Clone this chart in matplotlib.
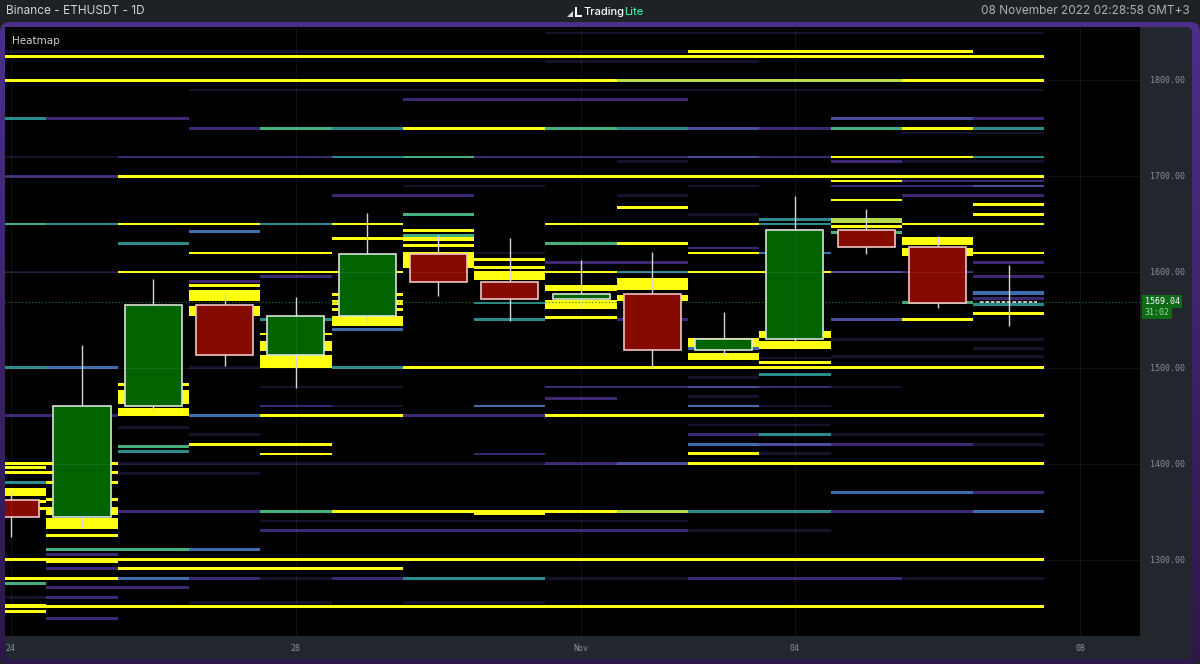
import matplotlib
matplotlib.use("Agg")
import matplotlib.pyplot as plt
import matplotlib.transforms as mtransforms
from matplotlib.patches import Rectangle, FancyBboxPatch, Polygon
from matplotlib.colors import LinearSegmentedColormap
import numpy as np

# daily candles, Oct 24 .. Nov 7 2022 (day index 0..14)
opens = [1362.6, 1344.5, 1460.5, 1565.5, 1514.0, 1554.0, 1618.5, 1589.5,
         1572.0, 1577.5, 1518.5, 1530.5, 1643.5, 1626.0, 1568.0]
highs = [1372.0, 1524.0, 1593.0, 1578.0, 1573.5, 1661.5, 1639.0, 1635.0,
         1612.0, 1621.0, 1558.0, 1679.0, 1666.0, 1638.0, 1607.0]
lows = [1324.0, 1333.0, 1456.0, 1502.0, 1479.0, 1547.0, 1575.0, 1549.0,
        1562.5, 1501.0, 1513.5, 1528.5, 1619.0, 1563.0, 1544.0]
closes = [1344.5, 1460.5, 1565.5, 1514.0, 1554.0, 1618.5, 1589.5, 1572.0,
          1577.5, 1518.5, 1530.5, 1643.5, 1626.0, 1568.0, 1569.04]

tick_days = [0, 4, 8, 11, 15]
tick_labels = ["24", "28", "Nov", "04", "08"]
price_ticks = [1300, 1400, 1500, 1600, 1700, 1800]
last_price = 1569.04
countdown = "31:02"

# resting liquidity: (price, first day, last day, intensity 1..8)
heat_lines = [
    (1849.0, 8, 14, 1), (1829.5, 0, 9, 1), (1829.5, 10, 13, 8),
    (1824.3, 0, 14, 8), (1819.5, 8, 10, 1),
    (1799.7, 0, 8, 8), (1799.7, 9, 12, 7), (1799.7, 13, 14, 8),
    (1789.6, 3, 14, 1), (1779.5, 6, 9, 2),
    (1759.8, 0, 0, 5), (1759.8, 1, 2, 2), (1759.8, 12, 13, 3), (1759.8, 14, 14, 2),
    (1749.7, 3, 3, 2), (1749.7, 4, 4, 6), (1749.7, 5, 5, 5), (1749.7, 6, 7, 8),
    (1749.7, 8, 8, 6), (1749.7, 9, 9, 5), (1749.7, 10, 10, 3), (1749.7, 11, 11, 2),
    (1749.7, 12, 12, 6), (1749.7, 13, 13, 8), (1749.7, 14, 14, 5),
    (1744.8, 13, 14, 1),
    (1719.8, 0, 1, 1), (1719.8, 2, 4, 2), (1719.8, 5, 5, 5), (1719.8, 6, 6, 6),
    (1719.8, 7, 9, 2), (1719.8, 10, 10, 3), (1719.8, 11, 11, 2),
    (1719.8, 12, 13, 8), (1719.8, 14, 14, 5),
    (1714.9, 9, 9, 1), (1714.9, 12, 12, 2), (1714.9, 13, 14, 1),
    (1699.7, 0, 1, 2), (1699.7, 2, 14, 8),
    (1694.8, 12, 12, 8), (1694.8, 13, 14, 2),
    (1689.6, 6, 7, 1), (1689.6, 10, 10, 1), (1689.6, 12, 13, 2), (1689.6, 14, 14, 3),
    (1679.9, 5, 6, 2), (1679.9, 9, 9, 1), (1679.9, 13, 14, 2),
    (1675.0, 12, 12, 8), (1670.0, 14, 14, 8), (1667.4, 9, 9, 8),
    (1660.1, 6, 6, 6), (1660.1, 10, 10, 1), (1660.1, 14, 14, 8),
    (1654.5, 11, 11, 5),
    (1650.0, 0, 0, 6), (1650.0, 1, 1, 5), (1650.0, 2, 3, 8), (1650.0, 4, 4, 5),
    (1650.0, 5, 5, 8), (1650.0, 8, 10, 8), (1650.0, 11, 11, 5), (1650.0, 13, 14, 8),
    (1647.3, 12, 12, 8), (1642.4, 3, 3, 4), (1643.0, 6, 6, 8), (1638.0, 6, 6, 6),
    (1634.8, 5, 5, 8), (1629.9, 2, 2, 5), (1629.9, 8, 8, 6), (1630.0, 9, 9, 8),
    (1625.0, 10, 10, 2), (1627.8, 6, 6, 8),
    (1619.8, 3, 4, 8), (1619.8, 7, 7, 1), (1619.8, 10, 10, 8), (1619.8, 11, 11, 4),
    (1619.8, 14, 14, 8),
    (1612.9, 7, 7, 8), (1610.0, 8, 9, 2), (1610.0, 14, 14, 2), (1604.9, 7, 7, 8),
    (1600.0, 0, 1, 1), (1600.0, 2, 5, 8), (1600.0, 8, 8, 8), (1600.0, 9, 9, 5),
    (1600.0, 10, 11, 8), (1600.0, 12, 12, 3), (1600.0, 13, 13, 2),
    (1595.5, 4, 4, 2), (1595.5, 14, 14, 2), (1590.4, 3, 3, 2), (1585.8, 3, 3, 8),
    (1576.4, 5, 5, 8), (1572.0, 14, 14, 2), (1567.7, 7, 7, 5), (1567.8, 13, 13, 6),
    (1566.0, 14, 14, 5), (1560.8, 5, 5, 8), (1557.0, 14, 14, 8), (1552.8, 8, 8, 8),
    (1550.4, 4, 4, 5), (1550.4, 7, 7, 5), (1550.4, 9, 9, 2), (1550.4, 12, 12, 3),
    (1550.4, 13, 13, 8),
    (1540.0, 5, 5, 4), (1535.4, 4, 4, 8), (1529.9, 12, 14, 1), (1520.5, 10, 10, 4),
    (1520.0, 14, 14, 1), (1512.0, 12, 14, 1), (1510.4, 11, 11, 1), (1505.6, 11, 11, 8),
    (1500.4, 0, 0, 5), (1500.4, 1, 1, 4), (1500.4, 3, 3, 1), (1500.4, 5, 5, 5),
    (1500.4, 6, 14, 8),
    (1493.0, 11, 11, 5), (1490.0, 10, 10, 1), (1483.0, 2, 2, 8),
    (1480.2, 4, 5, 1), (1480.2, 8, 9, 2), (1480.2, 10, 10, 3), (1480.2, 11, 11, 2),
    (1480.2, 12, 12, 1),
    (1470.0, 10, 10, 1), (1468.1, 8, 8, 2),
    (1460.4, 4, 4, 2), (1460.4, 5, 5, 1), (1460.4, 7, 7, 4), (1460.4, 10, 10, 4),
    (1460.4, 11, 11, 1),
    (1450.4, 0, 1, 2), (1450.4, 3, 3, 4), (1450.4, 4, 5, 8), (1450.4, 6, 7, 2),
    (1450.4, 8, 14, 8),
    (1440.6, 10, 11, 1), (1437.9, 2, 2, 1),
    (1430.6, 3, 3, 1), (1430.6, 10, 10, 2), (1430.6, 11, 11, 5), (1430.6, 12, 14, 1),
    (1420.5, 3, 4, 8), (1420.5, 10, 10, 4), (1420.5, 11, 11, 3), (1420.5, 12, 13, 2),
    (1420.5, 14, 14, 1),
    (1418.0, 2, 2, 6), (1412.9, 2, 2, 5), (1410.4, 4, 4, 8), (1410.4, 7, 7, 2),
    (1410.8, 10, 10, 8), (1410.8, 11, 11, 1),
    (1400.7, 0, 1, 8), (1400.7, 2, 7, 1), (1400.7, 8, 8, 2), (1400.7, 9, 9, 3),
    (1400.7, 10, 14, 8),
    (1396.2, 0, 0, 8), (1391.0, 0, 1, 8), (1390.3, 2, 3, 1),
    (1380.6, 0, 0, 5), (1380.6, 1, 1, 8),
    (1370.5, 12, 13, 4), (1370.5, 14, 14, 2),
    (1363.2, 1, 1, 8), (1360.8, 0, 0, 8), (1353.8, 0, 0, 8),
    (1350.4, 2, 3, 2), (1350.4, 4, 4, 6), (1350.4, 5, 6, 8), (1350.4, 8, 8, 8),
    (1350.4, 9, 9, 7), (1350.4, 10, 11, 5), (1350.4, 12, 13, 2), (1350.4, 14, 14, 4),
    (1340.6, 4, 9, 1), (1330.9, 4, 9, 2), (1330.9, 10, 11, 1),
    (1325.4, 1, 1, 8), (1310.8, 1, 2, 6), (1310.8, 3, 3, 4), (1306.0, 1, 1, 2),
    (1300.7, 0, 14, 8), (1291.0, 1, 1, 2), (1291.0, 2, 5, 8),
    (1280.9, 0, 1, 8), (1280.9, 2, 2, 4), (1280.9, 3, 3, 2), (1280.9, 4, 4, 1),
    (1280.9, 5, 5, 2), (1280.9, 6, 7, 5), (1280.9, 8, 9, 1), (1280.9, 10, 12, 2),
    (1280.9, 13, 14, 1),
    (1275.7, 0, 0, 6), (1271.2, 1, 2, 2), (1261.1, 0, 0, 1), (1261.1, 1, 1, 2),
    (1255.9, 3, 4, 1), (1255.9, 6, 7, 1),
    (1251.4, 0, 14, 8), (1246.2, 0, 0, 8), (1238.6, 1, 1, 2),
]

# thick walls: (low, high, first day, last day, intensity)
heat_bands = [
    (1367.0, 1374.7, 0, 0, 8), (1250.4, 1253.8, 0, 0, 8),
    (1332.6, 1343.4, 1, 1, 8), (1296.5, 1300.5, 1, 1, 8), (1347.0, 1355.0, 1, 1, 8),
    (1450.0, 1458.0, 2, 2, 8), (1462.5, 1477.0, 2, 2, 8),
    (1554.0, 1564.3, 3, 3, 8), (1569.5, 1581.0, 3, 3, 8),
    (1499.7, 1513.6, 4, 4, 8), (1517.6, 1527.9, 4, 4, 8),
    (1544.0, 1554.0, 5, 5, 8), (1566.0, 1571.0, 5, 5, 8),
    (1604.0, 1621.0, 6, 6, 8), (1632.0, 1636.0, 6, 6, 8),
    (1591.4, 1600.7, 7, 7, 8), (1347.0, 1352.0, 7, 7, 8),
    (1580.0, 1586.0, 8, 8, 8), (1561.5, 1571.0, 8, 8, 8),
    (1581.6, 1593.8, 9, 9, 8), (1569.5, 1576.4, 9, 9, 8),
    (1522.0, 1531.0, 10, 10, 8), (1508.0, 1516.0, 10, 10, 8),
    (1519.5, 1528.5, 11, 11, 8), (1531.0, 1539.0, 11, 11, 8),
    (1651.0, 1656.0, 12, 12, 7), (1639.6, 1643.0, 12, 12, 6),
    (1628.5, 1636.0, 13, 13, 8), (1616.4, 1625.0, 13, 13, 8),
    (1576.4, 1580.5, 14, 14, 4),
]

level_colors = {
    1: "#17122b", 2: "#3b2870", 3: "#4a4c9c", 4: "#3f6cad",
    5: "#2a8a8c", 6: "#45b07c", 7: "#b4dc48", 8: "#ffff10",
}

W, H = 1200, 664
fig = plt.figure(figsize=(W / 100, H / 100), dpi=100)
fig.patch.set_facecolor("#1e2126")

# pixel-space layer for the window chrome
bg = fig.add_axes([0, 0, 1, 1])
bg.set_xlim(0, W)
bg.set_ylim(H, 0)
bg.axis("off")

frame = FancyBboxPatch((0, 22), W, H - 22, boxstyle="round,pad=0,rounding_size=10",
                       facecolor="none", edgecolor="none")
bg.add_patch(frame)
grad = np.linspace(0, 1, 256).reshape(-1, 1)
frame_cmap = LinearSegmentedColormap.from_list("frame", ["#4c2f88", "#2c1848"])
im = bg.imshow(grad, extent=(0, W, H, 22), aspect="auto", cmap=frame_cmap)
im.set_clip_path(frame)
bg.add_patch(FancyBboxPatch((5, 27), 1187, 632, boxstyle="round,pad=0,rounding_size=6",
                            facecolor="#22262d", edgecolor="none"))

bg.text(6, 11, "Binance - ETHUSDT - 1D", color="#d4d4d8", fontsize=8.5,
        family="Inter", va="center", ha="left")
bg.text(1190, 11, "08 November 2022 02:28:58 GMT+3", color="#aeb0b6", fontsize=8.5,
        family="Inter", va="center", ha="right")
# logo mark
bg.add_patch(Polygon([(567, 17), (573, 11), (573, 17)], closed=True, facecolor="#d8d8d8"))
bg.add_patch(Rectangle((574.5, 7), 2, 10, facecolor="#ffffff"))
bg.add_patch(Rectangle((574.5, 15), 7, 2, facecolor="#ffffff"))
t1 = bg.text(583, 12, "Trading", color="#ffffff", fontsize=8, family="Inter",
             weight="medium", va="center", ha="left")
bg.annotate("Lite", xy=(1, 0), xycoords=t1, va="bottom", ha="left",
            color="#3fe6a0", fontsize=8, family="Inter", weight="medium")

# chart area
left, top, right, bottom = 5, 27, 1140, 636
ax = fig.add_axes([left / W, (H - bottom) / H, (right - left) / W, (bottom - top) / H])
ax.set_facecolor("#000000")
ax.set_xlim(-0.08, 15.84)
ax.set_ylim(1220.8, 1855.2)
for s in ax.spines.values():
    s.set_visible(False)

for price, d0, d1, lvl in heat_lines:
    ax.add_patch(Rectangle((d0 - 0.5, price - 1.5), d1 - d0 + 1, 3.0,
                           facecolor=level_colors[lvl], edgecolor="none", zorder=1))
for lo, hi, d0, d1, lvl in heat_bands:
    ax.add_patch(Rectangle((d0 - 0.5, lo), d1 - d0 + 1, hi - lo,
                           facecolor=level_colors[lvl], edgecolor="none", zorder=1.2))

ax.axhline(last_price, color="#1f7a2e", lw=0.8, ls=(0, (1, 2)), zorder=2)

for i, (o, h, l, c) in enumerate(zip(opens, highs, lows, closes)):
    ax.vlines(i, l, h, color="#d6d6d6", lw=1.0, zorder=3)
    if abs(c - o) < 1.5:
        ax.hlines(c, i - 0.4, i + 0.4, colors="#d8d8d8", lw=1.3,
                  linestyles=(0, (2, 1)), zorder=4)
        continue
    up = c >= o
    ax.add_patch(Rectangle((i - 0.4, min(o, c)), 0.8, abs(c - o),
                           facecolor="#016401" if up else "#850a00",
                           edgecolor="#d8e4d8" if up else "#eec4c4",
                           lw=1.2, zorder=4))

# faint grid drawn over everything
for d in tick_days:
    ax.axvline(d, color="#ffffff", alpha=0.07, lw=0.8, zorder=6)
for p in price_ticks:
    ax.axhline(p, color="#ffffff", alpha=0.07, lw=0.8, zorder=6)

ax.yaxis.tick_right()
ax.set_yticks(price_ticks)
ax.set_yticklabels([f"{p:.2f}" for p in price_ticks])
ax.set_xticks(tick_days)
ax.set_xticklabels(tick_labels)
ax.tick_params(axis="y", length=0, pad=7, labelsize=6, labelcolor="#8b9099")
ax.tick_params(axis="x", length=0, pad=6, labelsize=6, labelcolor="#8b9099")
for lab in ax.get_xticklabels() + ax.get_yticklabels():
    lab.set_family("DejaVu Sans Mono")

ax.text(0.006, 0.985, "Heatmap", transform=ax.transAxes, color="#d0d0d0",
        fontsize=7.5, va="top", ha="left")

# last price tag on the price scale
tag = mtransforms.blended_transform_factory(ax.transAxes, ax.transData)
ax.text(1.004, last_price, "1569.04", transform=tag, color="#ffffff", fontsize=6,
        family="DejaVu Sans Mono", va="center", ha="left", clip_on=False,
        bbox=dict(boxstyle="square,pad=0.25", facecolor="#0f6a18", edgecolor="none"))
ax.text(1.004, last_price - 11, countdown, transform=tag, color="#8fe08f", fontsize=6,
        family="DejaVu Sans Mono", va="center", ha="left", clip_on=False,
        bbox=dict(boxstyle="square,pad=0.25", facecolor="#0f6a18", edgecolor="none"))

fig.savefig("out.png", dpi=100, facecolor=fig.get_facecolor())
